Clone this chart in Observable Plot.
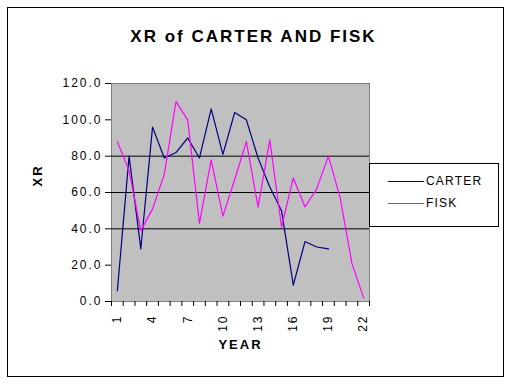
<!DOCTYPE html>
<html>
<head>
<meta charset="utf-8">
<script src="https://cdn.jsdelivr.net/npm/d3@7"></script>
<script src="https://cdn.jsdelivr.net/npm/@observablehq/plot@0.6"></script>
<style>
  html, body { margin: 0; padding: 0; background: #fff; }
  #wrap { position: relative; width: 512px; height: 384px; font-family: "Liberation Sans", Arial, sans-serif; }
  #border { position: absolute; left: 7px; top: 7px; width: 495px; height: 368px; border: 1px solid #000; pointer-events: none; }
  #legend { position: absolute; left: 369px; top: 163px; width: 128px; height: 62px; border: 1px solid #000; background: #fff; font-size: 12px; letter-spacing: 1.2px; }
  .item { position: absolute; left: 18px; display: flex; align-items: center; }
  .sw { width: 36px; height: 0; border-top: 1px solid; margin-right: 2px; }
  svg text { font-family: "Liberation Sans", Arial, sans-serif; letter-spacing: 2px; }
</style>
</head>
<body>
<div id="wrap"><div id="chart"></div><div id="legend"></div><div id="border"></div></div>
<script>
const title = "XR of CARTER AND FISK";
const xTitle = "YEAR";
const yTitle = "XR";
const seriesNames = ["CARTER", "FISK"];
const seriesColors = ["#000080", "#ff00ff"];
const years = d3.range(1, 23);
const carter = [6, 80, 29, 96, 79, 82, 90, 79, 106, 81, 104, 100, 79, 63, 50, 9, 33, 30, 29, null, null, null];
const fisk = [88, 72, 39, 51, 70, 110, 100, 43, 78, 47, 67, 88, 52, 89, 41, 68, 52, 62, 80, 57, 21, 2];
const yTicks = [0, 20, 40, 60, 80, 100, 120];
const gridLines = [40, 60, 80];
const xLabelTicks = [1, 4, 7, 10, 13, 16, 19, 22];

const rows = [];
years.forEach((yr, i) => {
  if (carter[i] != null) rows.push({year: yr, value: carter[i], series: seriesNames[0]});
});
years.forEach((yr, i) => {
  if (fisk[i] != null) rows.push({year: yr, value: fisk[i], series: seriesNames[1]});
});
const boundaries = d3.range(0, years.length + 1).map(k => k + 0.5);

const chart = Plot.plot({
  width: 512,
  height: 384,
  marginLeft: 111,
  marginRight: 143,
  marginTop: 83,
  marginBottom: 83,
  style: {background: "transparent", fontFamily: "Liberation Sans, Arial, sans-serif", letterSpacing: "2px"},
  x: {domain: [0.5, years.length + 0.5]},
  y: {domain: [0, 120]},
  color: {domain: seriesNames, range: seriesColors},
  marks: [
    Plot.frame({fill: "#c0c0c0", stroke: "#808080"}),
    Plot.ruleY(gridLines, {stroke: "#000", strokeWidth: 1}),
    Plot.lineY(rows, {x: "year", y: "value", z: "series", stroke: "series", strokeWidth: 1.2}),
    Plot.axisY(yTicks, {label: null, tickFormat: d => d.toFixed(1), tickSize: 6, tickPadding: 3, fontSize: 12, stroke: "#000"}),
    Plot.axisX(boundaries, {label: null, tickFormat: () => "", tickSize: 5, stroke: "#000"}),
    Plot.axisX(xLabelTicks, {label: null, tickSize: 0, tickRotate: -90, tickPadding: 13, fontSize: 12}),
    Plot.text([yTitle], {frameAnchor: "left", dx: -74, dy: -6, rotate: -90, fontSize: 13, fontWeight: "bold"}),
    Plot.text([xTitle], {frameAnchor: "bottom", dx: 0, dy: 47, fontSize: 13, fontWeight: "bold"}),
    Plot.text([title], {frameAnchor: "top", dx: 13, dy: -54, fontSize: 17, fontWeight: "bold"})
  ]
});
document.getElementById("chart").appendChild(chart);

const legend = document.getElementById("legend");
seriesNames.forEach((name, i) => {
  const item = document.createElement("div");
  item.className = "item";
  item.style.top = (10 + i * 22) + "px";
  const sw = document.createElement("span");
  sw.className = "sw";
  sw.style.borderTopColor = seriesColors[i];
  const label = document.createElement("span");
  label.textContent = name;
  item.appendChild(sw);
  item.appendChild(label);
  legend.appendChild(item);
});
</script>
</body>
</html>
